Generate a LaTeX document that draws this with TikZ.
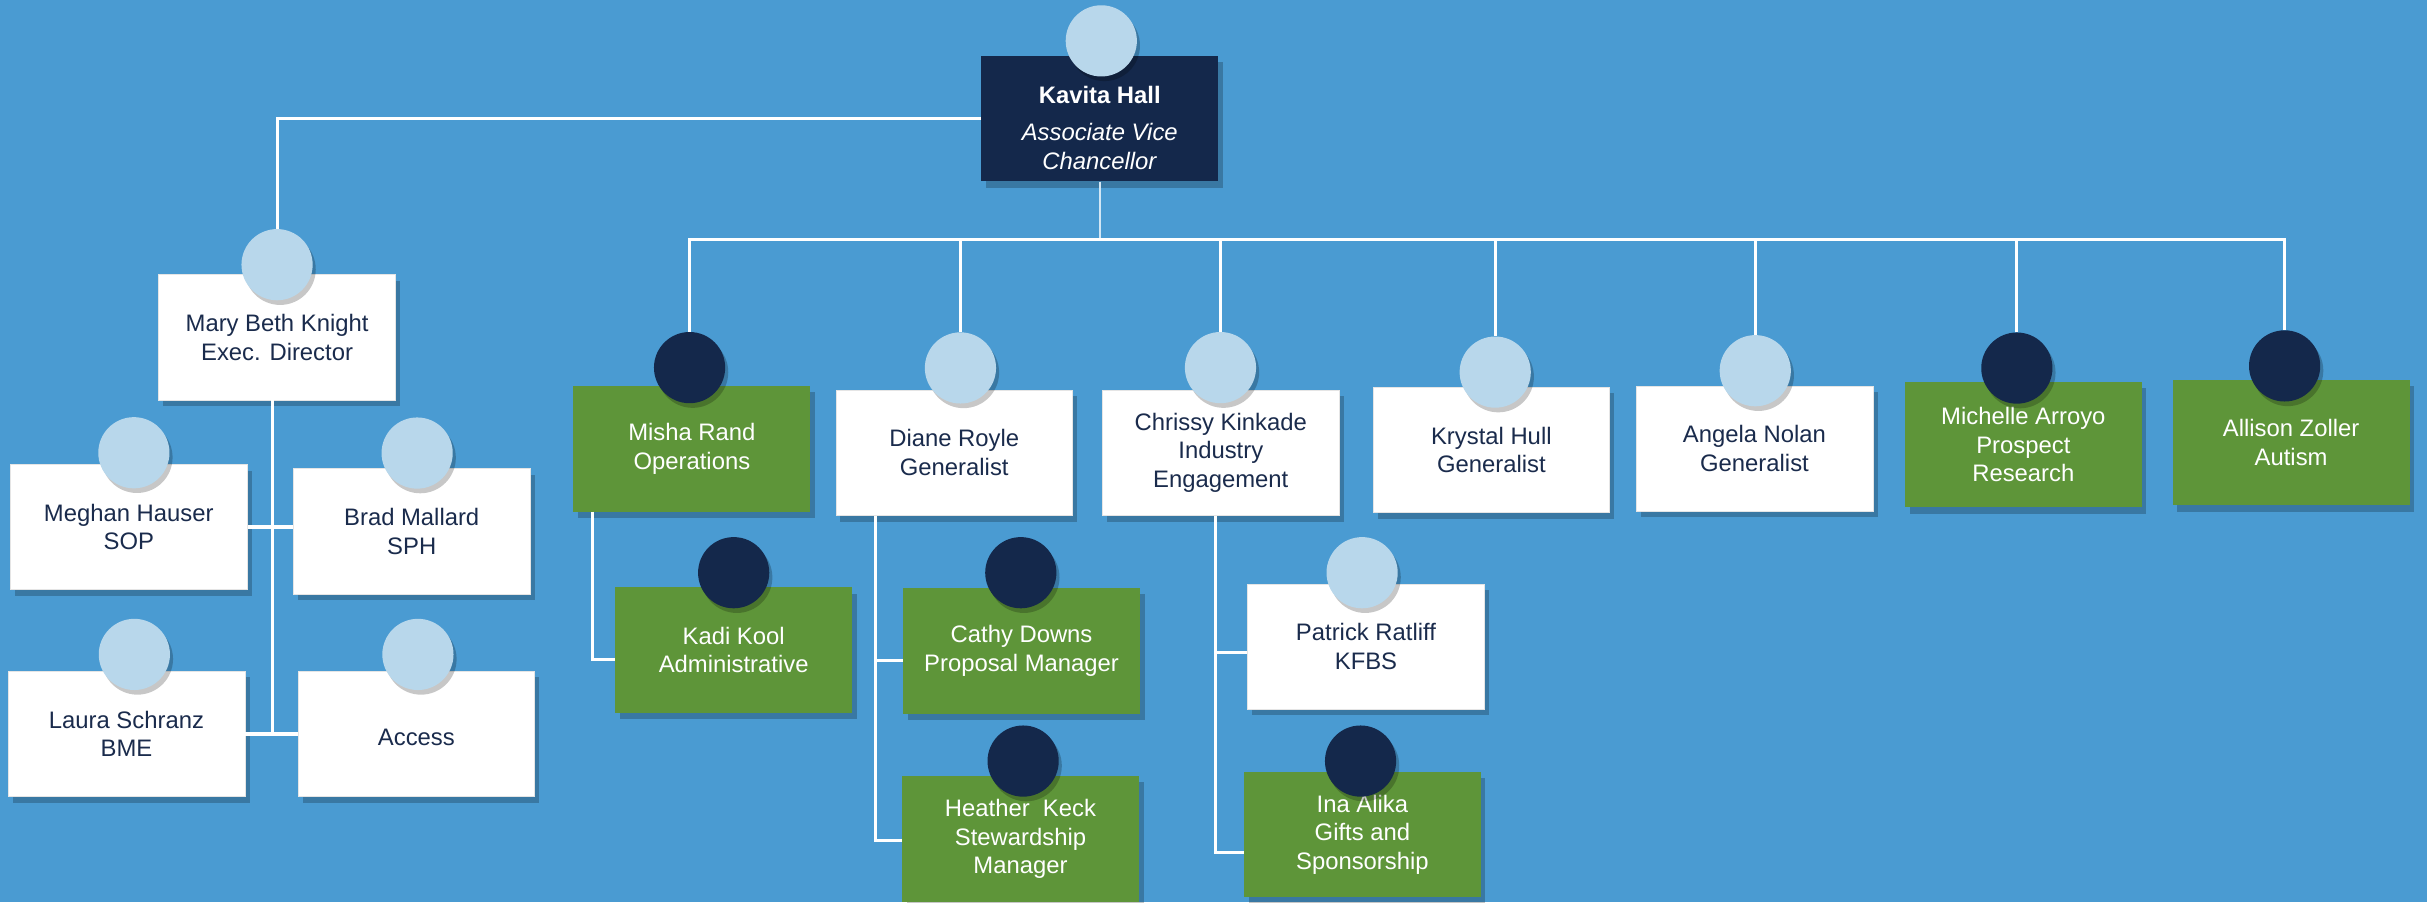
\documentclass[tikz,border=0pt]{standalone}
\usepackage{fontspec}
\setmainfont{Liberation Sans}
\usetikzlibrary{shadows}

\definecolor{bgblue}{RGB}{74,155,210}
\definecolor{navy}{RGB}{20,40,75}
\definecolor{leafgreen}{RGB}{94,149,57}
\definecolor{paleblue}{RGB}{184,215,235}
\definecolor{inknavy}{RGB}{26,43,76}

\tikzset{
    card/.style={minimum width=153pt, minimum height=81pt, inner sep=2pt, align=center,
        font=\fontsize{15.4}{18.5}\selectfont,
        execute at begin node={\rule{0pt}{15pt}},
        drop shadow={shadow xshift=3pt, shadow yshift=-4pt, opacity=0.22, fill=black}},
    whitecard/.style={card, fill=white, draw=black!10, text=inknavy},
    greencard/.style={card, fill=leafgreen, text=white},
    navycard/.style={card, fill=navy, text=white},
    photo/.style={circle, minimum size=46pt, inner sep=0pt, fill=paleblue,
        drop shadow={shadow xshift=2pt, shadow yshift=-3pt, opacity=0.22, fill=black}},
    darkphoto/.style={photo, fill=navy},
    orgline/.style={draw=white, line width=2pt},
    thinline/.style={draw=white!75!bgblue, line width=1pt}
}

\begin{document}
\begin{tikzpicture}[x=1pt, y=-1pt]

    \useasboundingbox (0,0) rectangle (1568,583);
    \fill[bgblue] (0,0) rectangle (1568,583);

    % top
    \node[navycard] (kavita) at (710.5,76.7) {{\rule{0pt}{23pt}\bfseries Kavita Hall}\\[5.5pt]\textit{Associate Vice}\\\textit{Chancellor}};
    \node[photo] (kavitapic) at (711.5,26.4) {};

    % left branch
    \node[whitecard] (mary) at (179,218) {Mary Beth Knight\\Exec. Director};
    \node[photo] (marypic) at (179,171) {};

    \node[whitecard] (meghan) at (83.2,340.5) {Meghan Hauser\\SOP};
    \node[photo] (meghanpic) at (86.5,292.5) {};

    \node[whitecard] (brad) at (266,343.2) {Brad Mallard\\SPH};
    \node[photo] (bradpic) at (269.5,292.7) {};

    \node[whitecard] (laura) at (81.7,474.2) {Laura Schranz\\BME};
    \node[photo] (laurapic) at (86.8,422.8) {};

    \node[whitecard] (access) at (269,474.2) {Access};
    \node[photo] (accesspic) at (270,422.8) {};

    % second row
    \node[greencard] (misha) at (447,290) {Misha Rand\\Operations};
    \node[darkphoto] (mishapic) at (445.5,237.5) {};

    \node[whitecard] (diane) at (616.5,292.5) {Diane Royle\\Generalist};
    \node[photo] (dianepic) at (620.5,237.7) {};

    \node[whitecard] (chrissy) at (788.7,292.5) {Chrissy Kinkade\\Industry\\Engagement};
    \node[photo] (chrissypic) at (788.5,237.5) {};

    \node[whitecard] (krystal) at (963.5,290.6) {Krystal Hull\\Generalist};
    \node[photo] (krystalpic) at (966,240.4) {};

    \node[whitecard] (angela) at (1133.5,289.8) {Angela Nolan\\Generalist};
    \node[photo] (angelapic) at (1134,239.5) {};

    \node[greencard] (michelle) at (1307.2,287.3) {Michelle Arroyo\\Prospect\\Research};
    \node[darkphoto] (michellepic) at (1303,237.8) {};

    \node[greencard] (allison) at (1480.2,286) {Allison Zoller\\Autism};
    \node[darkphoto] (allisonpic) at (1476,236.4) {};

    % third row
    \node[greencard] (kadi) at (474,420) {Kadi Kool\\Administrative};
    \node[darkphoto] (kadipic) at (474,370) {};

    \node[greencard] (cathy) at (660,420.5) {Cathy Downs\\Proposal Manager};
    \node[darkphoto] (cathypic) at (659.5,370) {};

    \node[greencard] (heather) at (659.3,542) {Heather\ \ Keck\\Stewardship\\Manager};
    \node[darkphoto] (heatherpic) at (661,491.7) {};

    \node[whitecard] (patrick) at (882.5,417.7) {Patrick Ratliff\\KFBS};
    \node[photo] (patrickpic) at (880,370) {};

    \node[greencard] (ina) at (880.2,539.2) {Ina Alika\\Gifts and\\Sponsorship};
    \node[darkphoto] (inapic) at (879,491.7) {};

    % lines from the top
    \draw[orgline] (kavita.west) -| (marypic.north);

    \coordinate (bus) at (711,155);
    \draw[thinline] (kavita.south) -- (kavita.south |- bus);

    \draw[orgline] (mishapic.north) |- (bus) -| (allisonpic.north);
    \draw[orgline] (bus -| dianepic.north) -- (dianepic.north);
    \draw[orgline] (bus -| chrissypic.north) -- (chrissypic.north);
    \draw[orgline] (bus -| krystalpic.north) -- (krystalpic.north);
    \draw[orgline] (bus -| angelapic.north) -- (angelapic.north);
    \draw[orgline] (bus -| michellepic.north) -- (michellepic.north);

    % left branch lines
    \coordinate (maryleg) at ([xshift=-3pt]mary.south);
    \draw[orgline] (maryleg) |- (laura.east);
    \draw[orgline] (laura.east) -- (access.west);
    \draw[orgline] (meghan.east) -- (meghan.east -| brad.west);

    % lower lines
    \coordinate (mishaleg) at ([xshift=-64.5pt]misha.south);
    \draw[orgline] (mishaleg) |- ([yshift=-6pt]kadi.west);

    \coordinate (dianeleg) at ([xshift=-51pt]diane.south);
    \draw[orgline] (dianeleg) |- ([yshift=-6.5pt]cathy.west);
    \draw[orgline] (dianeleg) |- ([yshift=-1pt]heather.west);

    \coordinate (chrissyleg) at ([xshift=-3.7pt]chrissy.south);
    \draw[orgline] (chrissyleg) |- ([yshift=-4pt]patrick.west);
    \draw[orgline] (chrissyleg) |- ([yshift=-11.6pt]ina.west);

\end{tikzpicture}
\end{document}
